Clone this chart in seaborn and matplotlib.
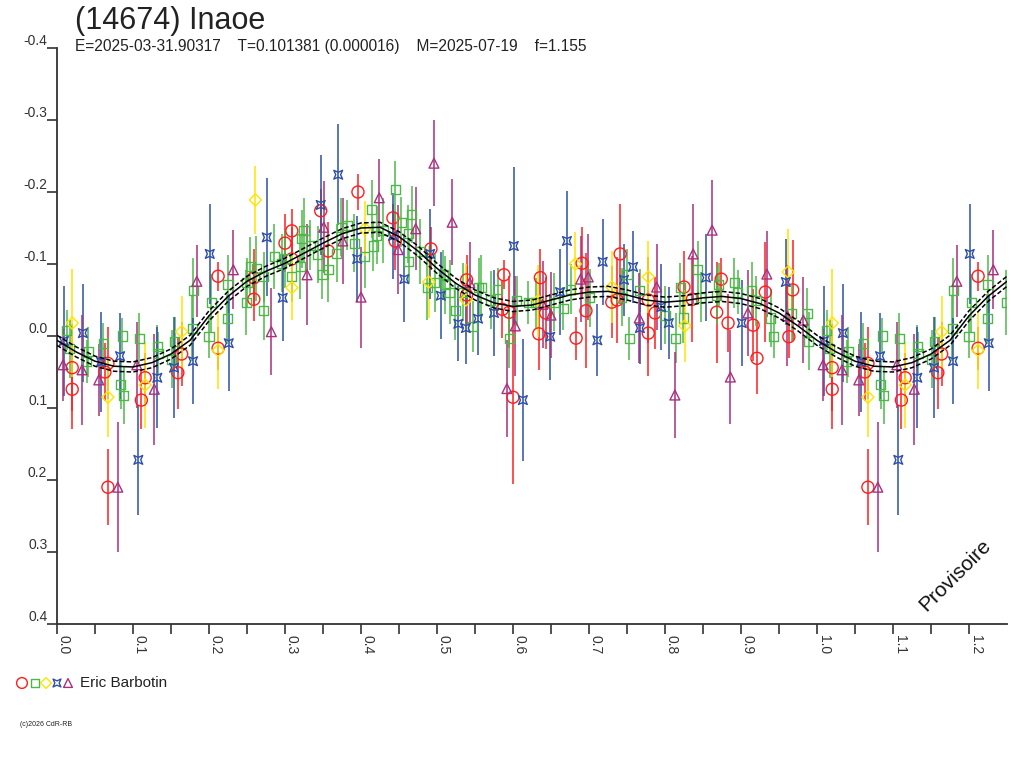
import numpy as np
import pandas as pd
import seaborn as sns
import matplotlib.pyplot as plt
from matplotlib.path import Path

# --- donnees (phase, magnitude relative, erreur) ---
red_ph = [0.020, 0.020, 0.067, 0.063, 0.067, 0.116, 0.111, 0.159, 0.164, 0.212, 0.212, 0.259, 0.259,
          0.300, 0.309, 0.309, 0.347, 0.357, 0.396, 0.442, 0.445, 0.492, 0.539, 0.539, 0.588, 0.586,
          0.595, 0.600, 0.636, 0.634, 0.643, 0.683, 0.691, 0.696, 0.730, 0.741, 0.737, 0.778, 0.787,
          0.778, 0.825, 0.836, 0.868, 0.874, 0.883, 0.916, 0.921, 0.932, 0.968, 0.963]
red_mag = [0.044, 0.074, 0.038, 0.050, 0.210, 0.058, 0.089, 0.051, 0.025, -0.083, 0.017, -0.051, -0.081,
           -0.129, -0.146, -0.107, -0.174, -0.118, -0.200, -0.164, -0.132, -0.121, -0.078, -0.057, -0.085, -0.037,
           -0.033, 0.085, -0.081, -0.003, -0.032, 0.003, -0.101, -0.035, -0.047, -0.114, -0.050, -0.050, -0.032,
           -0.004, -0.068, -0.051, -0.033, -0.079, -0.018, -0.015, 0.031, -0.061, -0.064, 0.001]
red_err = [0.060, 0.055, 0.050, 0.040, 0.053, 0.035, 0.040, 0.050, 0.045, 0.020, 0.030, 0.030, 0.040,
           0.040, 0.030, 0.045, 0.030, 0.040, 0.025, 0.020, 0.040, 0.030, 0.035, 0.040, 0.020, 0.040,
           0.050, 0.120, 0.040, 0.050, 0.050, 0.030, 0.050, 0.080, 0.050, 0.070, 0.060, 0.060, 0.050,
           0.060, 0.050, 0.060, 0.070, 0.030, 0.040, 0.050, 0.050, 0.070, 0.070, 0.030]

green_ph = [0.013, 0.017, 0.041, 0.039, 0.061, 0.086, 0.084, 0.088, 0.108, 0.132, 0.133, 0.151, 0.155,
            0.178, 0.179, 0.203, 0.200, 0.224, 0.225, 0.249, 0.250, 0.254, 0.262, 0.272, 0.272, 0.286,
            0.296, 0.300, 0.309, 0.320, 0.322, 0.325, 0.333, 0.343, 0.349, 0.357, 0.368, 0.374, 0.382,
            0.391, 0.405, 0.414, 0.416, 0.421, 0.429, 0.445, 0.453, 0.462, 0.463, 0.467, 0.478, 0.487,
            0.497, 0.508, 0.511, 0.517, 0.524, 0.534, 0.547, 0.555, 0.558, 0.580, 0.571, 0.605, 0.620,
            0.595, 0.630, 0.654, 0.666, 0.676, 0.701, 0.750, 0.743, 0.767, 0.753, 0.800, 0.820, 0.814,
            0.824, 0.843, 0.847, 0.868, 0.871, 0.891, 0.896, 0.914, 0.920, 0.939, 0.943, 0.967, 0.987, 0.989]
green_mag = [-0.008, 0.018, 0.022, 0.035, 0.010, 0.000, 0.067, 0.082, 0.003, 0.015, 0.024, 0.032, 0.008,
             -0.010, -0.063, -0.046, 0.001, -0.024, -0.072, -0.047, -0.074, -0.097, -0.094, -0.035, -0.082, -0.110,
             -0.101, -0.107, -0.082, -0.096, -0.135, -0.147, -0.126, -0.113, -0.086, -0.092, -0.115, -0.151, -0.154,
             -0.129, -0.111, -0.176, -0.125, -0.140, -0.147, -0.203, -0.158, -0.142, -0.104, -0.169, -0.117, -0.067,
             -0.074, -0.085, -0.071, -0.061, -0.035, -0.061, -0.013, -0.068, -0.067, -0.065, -0.050, -0.049, -0.047,
             0.004, -0.046, -0.047, -0.038, -0.065, -0.053, -0.086, -0.054, -0.063, 0.003, -0.029, -0.067, 0.003,
             -0.025, -0.092, -0.054, -0.056, -0.071, -0.074, -0.061, -0.063, -0.049, -0.025, 0.001, -0.031, -0.031, 0.007]
green_err = [0.028, 0.040, 0.035, 0.030, 0.028, 0.025, 0.035, 0.040, 0.035, 0.030, 0.030, 0.040, 0.035,
             0.045, 0.045, 0.040, 0.030, 0.035, 0.040, 0.045, 0.035, 0.040, 0.045, 0.040, 0.035, 0.045,
             0.040, 0.040, 0.035, 0.045, 0.040, 0.045, 0.035, 0.040, 0.035, 0.045, 0.040, 0.040, 0.035,
             0.040, 0.045, 0.040, 0.035, 0.040, 0.045, 0.040, 0.035, 0.040, 0.030, 0.040, 0.045, 0.045,
             0.040, 0.035, 0.040, 0.045, 0.040, 0.040, 0.035, 0.040, 0.045, 0.030, 0.040, 0.035, 0.030,
             0.040, 0.035, 0.040, 0.030, 0.035, 0.040, 0.035, 0.040, 0.030, 0.030, 0.040, 0.035, 0.035,
             0.035, 0.040, 0.035, 0.040, 0.030, 0.035, 0.030, 0.040, 0.035, 0.040, 0.030, 0.040, 0.035, 0.040]

yellow_ph = [0.020, 0.067, 0.116, 0.164, 0.212, 0.261, 0.309, 0.405, 0.489, 0.538, 0.633, 0.682, 0.730,
             0.778, 0.826, 0.962]
yellow_mag = [-0.018, 0.085, 0.068, -0.006, 0.020, -0.189, -0.067, -0.149, -0.075, -0.050, -0.049, -0.100, -0.068,
              -0.082, -0.014, -0.089]
yellow_err = [0.075, 0.055, 0.060, 0.050, 0.054, 0.047, 0.045, 0.038, 0.050, 0.050, 0.050, 0.045, 0.050,
              0.050, 0.050, 0.060]

blue_ph = [0.009, 0.034, 0.058, 0.083, 0.107, 0.132, 0.154, 0.179, 0.201, 0.226, 0.276, 0.297, 0.347,
           0.370, 0.395, 0.442, 0.457, 0.491, 0.505, 0.528, 0.538, 0.554, 0.575, 0.601, 0.613, 0.649,
           0.662, 0.671, 0.718, 0.711, 0.758, 0.746, 0.767, 0.795, 0.805, 0.854, 0.901, 0.959]
blue_mag = [0.007, -0.004, 0.036, 0.028, 0.172, 0.058, 0.044, 0.035, -0.114, 0.010, -0.137, -0.053, -0.182,
            -0.224, -0.107, -0.139, -0.079, -0.114, -0.056, -0.017, -0.011, -0.024, -0.032, -0.125, 0.089, 0.001,
            -0.061, -0.132, -0.103, 0.006, -0.096, -0.078, -0.011, -0.040, -0.018, -0.081, -0.018, -0.075]
blue_err = [0.076, 0.068, 0.070, 0.060, 0.076, 0.070, 0.070, 0.060, 0.070, 0.066, 0.082, 0.060, 0.070,
            0.070, 0.060, 0.060, 0.060, 0.062, 0.060, 0.052, 0.050, 0.050, 0.060, 0.110, 0.085, 0.060,
            0.060, 0.070, 0.060, 0.050, 0.050, 0.050, 0.050, 0.060, 0.050, 0.060, 0.060, 0.060]

purple_ph = [0.008, 0.033, 0.055, 0.080, 0.105, 0.128, 0.184, 0.232, 0.282, 0.329, 0.351, 0.376, 0.400,
             0.424, 0.449, 0.472, 0.496, 0.520, 0.543, 0.592, 0.603, 0.639, 0.650, 0.689, 0.699, 0.766,
             0.789, 0.813, 0.837, 0.862, 0.886, 0.909, 0.934, 0.961, 0.982]
purple_mag = [0.040, 0.047, 0.061, 0.210, 0.040, 0.074, -0.076, -0.092, -0.006, -0.085, -0.151, -0.132, -0.054,
              -0.192, -0.120, -0.149, -0.240, -0.158, -0.074, 0.073, -0.014, -0.044, -0.029, -0.079, -0.082, -0.025,
              -0.068, 0.082, -0.114, -0.147, 0.057, -0.032, -0.086, -0.028, -0.022]
purple_err = [0.050, 0.076, 0.050, 0.090, 0.060, 0.077, 0.050, 0.055, 0.060, 0.070, 0.064, 0.060, 0.070,
              0.054, 0.062, 0.058, 0.060, 0.060, 0.057, 0.067, 0.070, 0.060, 0.060, 0.060, 0.060, 0.063,
              0.060, 0.060, 0.070, 0.070, 0.065, 0.060, 0.060, 0.070, 0.060]

# courbe de Fourier (lue tous les 0.025 en phase)
fit_ph = np.arange(0, 1.0001, 0.025)
fit_mag = [0.006, 0.022, 0.035, 0.042, 0.043, 0.037, 0.025, 0.006, -0.028, -0.055, -0.076,
           -0.090, -0.101, -0.115, -0.129, -0.142, -0.150, -0.151, -0.138, -0.118, -0.094,
           -0.073, -0.057, -0.046, -0.041, -0.043, -0.050, -0.057, -0.061, -0.062, -0.057,
           -0.050, -0.047, -0.049, -0.053, -0.055, -0.052, -0.045, -0.032, -0.014, 0.006]

titre = "(14674) Inaoe"
sous_titre = "E=2025-03-31.90317    T=0.101381 (0.000016)    M=2025-07-19    f=1.155"
observateur = "Eric Barbotin"

sns.set_style("white")
plt.rcParams['font.family'] = ['Liberation Sans', 'DejaVu Sans']

# marqueur bleu (carre a cotes creuses)
etoile = Path([(-1, -1), (0, -0.55), (1, -1), (0.55, 0), (1, 1), (0, 0.55), (-1, 1), (-0.55, 0), (-1, -1)],
              [1, 2, 2, 2, 2, 2, 2, 2, 79])

series = [
    (red_ph, red_mag, red_err, '#FF1E1E', 'o', 75),
    (green_ph, green_mag, green_err, '#4DB848', 's', 42),
    (yellow_ph, yellow_mag, yellow_err, '#FFE400', 'D', 38),
    (blue_ph, blue_mag, blue_err, '#2E4FA8', etoile, 40),
    (purple_ph, purple_mag, purple_err, '#A8307F', '^', 50),
]

fig = plt.figure(figsize=(10.24, 7.68), dpi=100)
ax = fig.add_axes([57/1024, 144/768, 950/1024, 576/768])

# donnees repliees : phase 0-0.25 repetee en 1.0-1.25
for ph, mag, err, col, mk, sz in series:
    df = pd.DataFrame({'phase': ph, 'mag': mag, 'err': err})
    df = pd.concat([df, df[df['phase'] < 0.25].assign(phase=lambda d: d['phase'] + 1)])
    ax.vlines(df['phase'], df['mag'] - df['err'], df['mag'] + df['err'], color=col, lw=1.1, zorder=2)
    sns.scatterplot(data=df, x='phase', y='mag', marker=mk, s=sz, color=col,
                    facecolor='none', edgecolor=col, linewidth=1.0, ax=ax, zorder=3, legend=False)

fit = pd.DataFrame({'phase': fit_ph, 'mag': fit_mag})
fit = pd.concat([fit, fit[(fit['phase'] > 0) & (fit['phase'] < 0.26)].assign(phase=lambda d: d['phase'] + 1)])
fit = fit.sort_values('phase')
sns.lineplot(data=fit, x='phase', y='mag', color='black', lw=1.1, ax=ax, zorder=4, sort=False)
for d in (-0.007, 0.007):
    ax.plot(fit['phase'], fit['mag'] + d, color='black', lw=1.1, ls=(0, (3, 1.5)), zorder=4)

ax.set_xlim(0, 1.25)
ax.set_ylim(0.4, -0.4)
ax.set_xlabel('')
ax.set_ylabel('')
for s in ('top', 'right'):
    ax.spines[s].set_visible(False)
for s in ('left', 'bottom'):
    ax.spines[s].set_color('#333333')
    ax.spines[s].set_linewidth(1.3)

yt = np.round(np.arange(-0.4, 0.41, 0.1), 1)
ax.set_yticks(yt)
ax.set_yticklabels([f"{v:.1f}".replace('-0.0', '0.0') for v in yt])
xt = np.round(np.arange(0, 1.21, 0.1), 1)
ax.set_xticks(xt)
ax.set_xticklabels([f"{v:.1f}" for v in xt])
ax.set_xticks(np.arange(0.05, 1.25, 0.1), minor=True)
ax.tick_params(axis='both', which='both', direction='out', length=7, width=1.2, color='#333333',
               labelsize=10, labelcolor='#333333', left=True, bottom=True)
ax.tick_params(axis='y', pad=0)
ax.tick_params(axis='x', pad=1)
plt.setp(ax.get_yticklabels(), va='bottom')
plt.setp(ax.get_xticklabels(), rotation=-90, ha='left', va='top')

fig.text(75/1024, 1 - 21/768, titre, fontsize=22, color='#222222', va='center')
fig.text(75/1024, 1 - 47/768, sous_titre, fontsize=11.2, color='#222222', va='center')
ax.text(0.945, 0.085, "Provisoire", transform=ax.transAxes, rotation=45, fontsize=15,
        ha='center', va='center', color='#111111')

# legende des observateurs
y_leg = 1 - 683/768
for (ph, mag, err, col, mk, sz), xp in zip(series, [22, 35, 46, 57, 68]):
    ax.scatter([xp/1024], [y_leg], marker=mk, s=sz*0.8, facecolor='none', edgecolor=col, linewidth=1.0,
               transform=fig.transFigure, clip_on=False)
fig.text(80/1024, y_leg, observateur, fontsize=11, color='#222222', va='center')
fig.text(20/1024, 1 - 724/768, "(c)2026 CdR-RB", fontsize=5, color='#222222', va='center')

fig.savefig('out.png', dpi=100)
